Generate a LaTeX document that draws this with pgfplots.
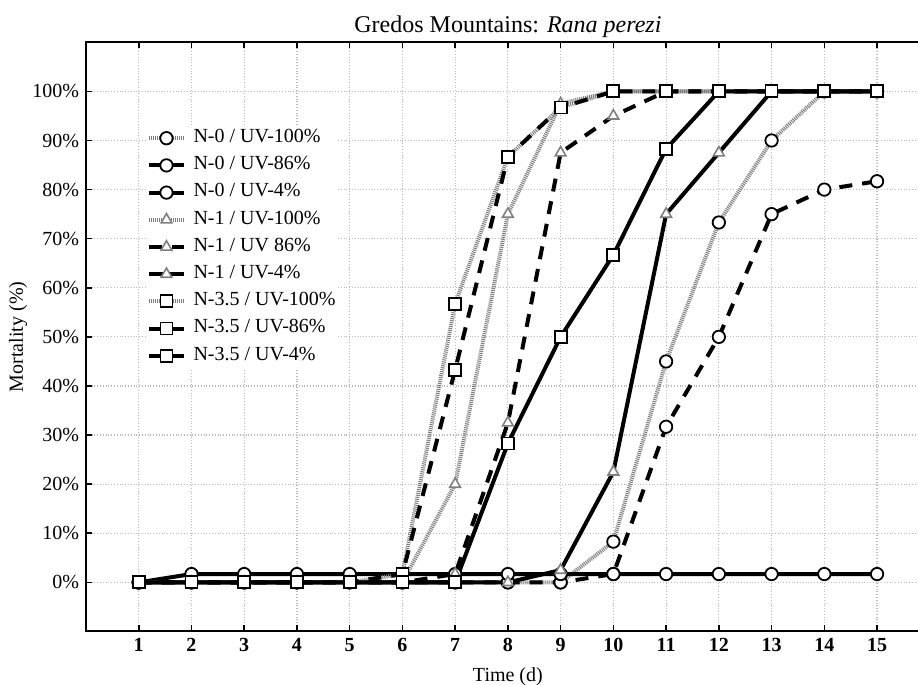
\documentclass[border=0pt]{standalone}
\usepackage{fontspec}
\setmainfont{Liberation Serif}
\usepackage{pgfplots}
\usepackage{pgfplotstable}
\pgfplotsset{compat=1.18}

\definecolor{dotgray}{RGB}{125,125,125}

% columns: N-0, N-1, N-3.5 crossed with UV-100, UV-86, UV-4
\pgfplotstableread{
x  aA    aB    aC   bA    bB    bC    cA    cB    cC
1  0     0     0    0     0     0     0     0     0
2  0     0     1.7  0     0     0     0     0     0
3  0     0     1.7  0     0     0     0     0     0
4  0     0     1.7  0     0     0     0     0     0
5  0     0     1.7  0     0     0     0     0     0
6  0     0     1.7  0     0     0     1.7   1.7   0
7  0     0     1.7  20    1.7   0     56.7  43.3  0
8  0     0     1.7  75    32.5  0     86.7  86.7  28.3
9  0     0     1.7  97.5  87.5  2.5   96.7  96.7  50
10 8.3   1.7   1.7  100   95    22.5  100   100   66.7
11 45    31.7  1.7  100   100   75    100   100   88.3
12 73.3  50    1.7  100   100   87.5  100   100   100
13 90    75    1.7  100   100   100   100   100   100
14 100   80    1.7  100   100   100   100   100   100
15 100   81.7  1.7  100   100   100   100   100   100
}\mort

\pgfplotsset{
  gdot/.style={dotgray, line width=2pt, dash pattern=on 0.5pt off 0.5pt},
  bdash/.style={black, line width=2pt, dash pattern=on 6.5pt off 5pt},
  bsolid/.style={black, line width=2pt},
  mcirc/.style={mark=*, mark size=3.1pt, mark options={solid, fill=white, draw=black, line width=0.9pt}},
  msq/.style={mark=square*, mark size=3pt, mark options={solid, fill=white, draw=black, line width=0.9pt}},
  mtri/.style={mark=triangle*, mark size=3.1pt, mark options={solid, fill=white, draw=gray, line width=0.8pt}},
}

\begin{document}
\begin{tikzpicture}
\begin{axis}[
    scale only axis, width=421.9pt, height=294.6pt,
    xmin=0, xmax=16, ymin=-10, ymax=110,
    xtick={1,...,15},
    xticklabels={1,2,3,4,5,6,7,8,9,10,11,12,13,14,15},
    xticklabel style={font=\bfseries},
    ytick={0,10,...,100},
    yticklabels={0\%,10\%,20\%,30\%,40\%,50\%,60\%,70\%,80\%,90\%,100\%},
    tick align=inside, major tick length=3pt,
    tick style={black, line width=0.8pt},
    axis line style={line width=1pt},
    grid=major,
    major grid style={densely dotted, gray!55, line width=0.6pt},
    xlabel={Time (d)},
    xlabel style={at={(axis description cs:0.5,-0.0772)}, anchor=center},
    ylabel={Mortality (\%)},
    ylabel style={at={(axis description cs:-0.0806,0.5)}, anchor=center},
    legend cell align=left,
    legend style={at={(axis description cs:0.0723,0.861)}, anchor=north west,
        draw=none, fill=white, inner sep=0pt, row sep=0pt, column sep=3pt,
        nodes={inner sep=1pt, text height=8pt, text depth=3.6pt}},
]
\addplot[gdot, mcirc] table[x=x, y=aA] {\mort};
\addlegendentry{N-0 / UV-100\%}
\addplot[bdash, mcirc] table[x=x, y=aB] {\mort};
\addlegendentry{N-0 / UV-86\%}
\addplot[bsolid, mcirc] table[x=x, y=aC] {\mort};
\addlegendentry{N-0 / UV-4\%}
\addplot[gdot, mtri] table[x=x, y=bA] {\mort};
\addlegendentry{N-1 / UV-100\%}
\addplot[bdash, mtri] table[x=x, y=bB] {\mort};
\addlegendentry{N-1 / UV 86\%}
\addplot[bsolid, mtri] table[x=x, y=bC] {\mort};
\addlegendentry{N-1 / UV-4\%}
\addplot[gdot, msq] table[x=x, y=cA] {\mort};
\addlegendentry{N-3.5 / UV-100\%}
\addplot[bdash, msq] table[x=x, y=cB] {\mort};
\addlegendentry{N-3.5 / UV-86\%}
\addplot[bsolid, msq] table[x=x, y=cC] {\mort};
\addlegendentry{N-3.5 / UV-4\%}
\coordinate (bl) at (rel axis cs:0,0);
\coordinate (tl) at (rel axis cs:0,1);
\coordinate (tc) at (rel axis cs:0.5,1);
\end{axis}
\node[anchor=base, font=\fontsize{12}{14}\selectfont] at ([yshift=5pt]tc)
    {Gredos Mountains: \textit{Rana perezi}};
\pgfresetboundingbox
\path ([xshift=-43pt,yshift=-26.75pt]bl) rectangle ([xshift=416pt,yshift=21.15pt]tl);
\end{tikzpicture}
\end{document}
